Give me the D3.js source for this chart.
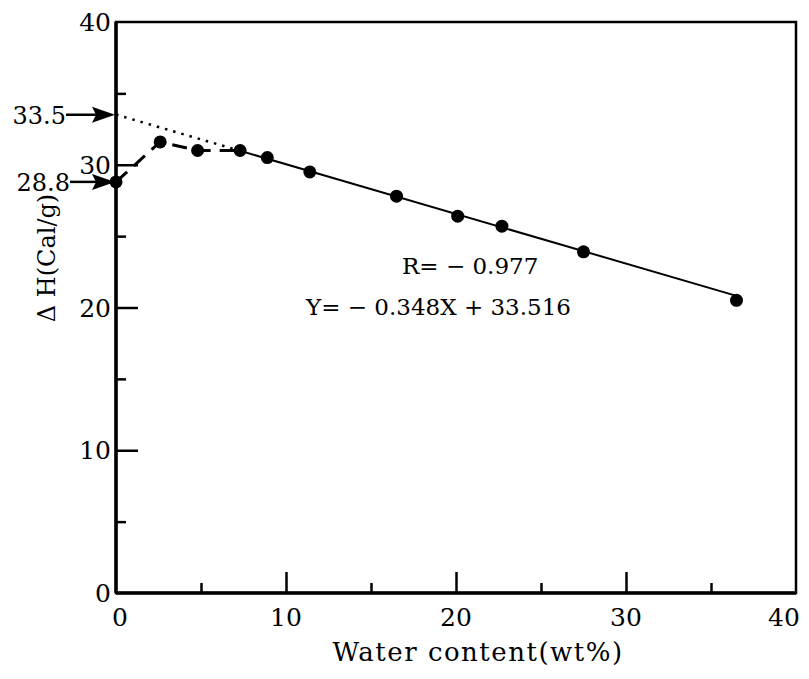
<!DOCTYPE html>
<html>
<head>
<meta charset="utf-8">
<script src="https://cdn.jsdelivr.net/npm/d3@7"></script>
<style>
  body { margin: 0; background: #fff; }
  text { font-family: "DejaVu Serif", "Liberation Serif", serif; fill: #000; }
</style>
</head>
<body>
<svg id="chart" width="809" height="679"></svg>
<script>
// measured points, water content (wt%) vs enthalpy (cal/g)
const water = [0, 2.6, 4.8, 7.3, 8.9, 11.4, 16.5, 20.1, 22.7, 27.5, 36.5];
const deltaH = [28.8, 31.6, 31.0, 31.0, 30.5, 29.5, 27.8, 26.4, 25.7, 23.9, 20.5];
const xTicks = [0, 10, 20, 30, 40];
const yTicks = [0, 10, 20, 30, 40];
const minorTicks = [5, 15, 25, 35];
const slope = -0.348, intercept = 33.516;
const fitStart = 7.3, fitEnd = 36.5;
const arrowValues = [33.5, 28.8];

const svg = d3.select('#chart');
const W = 809, H = 679;
const margin = { top: 22, right: 13, bottom: 86, left: 116 };

const x = d3.scaleLinear().domain([0, 40]).range([margin.left, W - margin.right]);
const y = d3.scaleLinear().domain([0, 40]).range([H - margin.bottom, margin.top]);

// frame: top and right plain
svg.append('rect')
    .attr('x', x(0)).attr('y', y(40))
    .attr('width', x(40) - x(0)).attr('height', y(0) - y(40))
    .attr('fill', 'none').attr('stroke', '#000').attr('stroke-width', 2.5);
svg.append('line')
    .attr('x1', x(0)).attr('x2', x(0)).attr('y1', y(40)).attr('y2', y(0))
    .attr('stroke', '#000').attr('stroke-width', 3.5);
svg.append('line')
    .attr('x1', x(0)).attr('x2', x(40)).attr('y1', y(0)).attr('y2', y(0))
    .attr('stroke', '#000').attr('stroke-width', 3.5);

// bottom axis, ticks pointing inward
svg.append('g')
    .attr('transform', 'translate(0,' + y(0) + ')')
    .call(d3.axisTop(x).tickValues(xTicks.slice(1, -1)).tickSize(21).tickFormat(''))
    .select('.domain').remove();
svg.append('g')
    .attr('transform', 'translate(0,' + y(0) + ')')
    .call(d3.axisTop(x).tickValues(minorTicks).tickSize(10).tickFormat(''))
    .select('.domain').remove();
svg.selectAll('.x-label')
    .data(xTicks)
    .enter().append('text')
    .attr('class', 'x-label')
    .attr('x', d => x(d) + (d === 0 ? 4 : d === 40 ? -12 : 0))
    .attr('y', y(0) + 33)
    .attr('text-anchor', 'middle')
    .attr('font-size', 25)
    .text(d => d);

// left axis
svg.append('g')
    .attr('transform', 'translate(' + x(0) + ',0)')
    .call(d3.axisRight(y).tickValues(yTicks.filter(d => d > 0 && d < 40)).tickSize(22).tickFormat(''))
    .select('.domain').remove();
svg.append('g')
    .attr('transform', 'translate(' + x(0) + ',0)')
    .call(d3.axisRight(y).tickValues(minorTicks).tickSize(10).tickFormat(''))
    .select('.domain').remove();
svg.selectAll('.y-label')
    .data(yTicks)
    .enter().append('text')
    .attr('class', 'y-label')
    .attr('x', x(0) - 5)
    .attr('y', d => y(d) + 9)
    .attr('text-anchor', 'end')
    .attr('font-size', 25)
    .text(d => d);

svg.selectAll('.tick line').attr('stroke', '#000').attr('stroke-width', 2.5);

// axis titles
svg.append('text')
    .attr('x', (x(0) + x(40)) / 2 + 22)
    .attr('y', H - 18)
    .attr('text-anchor', 'middle')
    .attr('font-size', 26)
    .attr('letter-spacing', 1.5)
    .text('Water content(wt%)');
svg.append('text')
    .attr('transform', 'translate(55,' + 258 + ') rotate(-90)')
    .attr('text-anchor', 'middle')
    .attr('font-size', 24)
    .text('\u0394 H(Cal/g)');

// regression: dotted extrapolation then solid fit
const fit = v => slope * v + intercept;
const line = d3.line().x(d => x(d[0])).y(d => y(d[1]));
svg.append('path')
    .attr('d', line([[0, fit(0)], [fitStart, fit(fitStart)]]))
    .attr('fill', 'none').attr('stroke', '#000').attr('stroke-width', 2.5)
    .attr('stroke-dasharray', '2.5,6');
svg.append('path')
    .attr('d', line([[fitStart, fit(fitStart)], [fitEnd, fit(fitEnd)]]))
    .attr('fill', 'none').attr('stroke', '#000').attr('stroke-width', 2);

// dashed line through low-water points
const pts = water.map((w, i) => [w, deltaH[i]]);
svg.append('path')
    .attr('d', line(pts.slice(0, 4)))
    .attr('fill', 'none').attr('stroke', '#000').attr('stroke-width', 3)
    .attr('stroke-dasharray', '15,9');

svg.selectAll('circle')
    .data(pts)
    .enter().append('circle')
    .attr('cx', d => x(d[0]))
    .attr('cy', d => y(d[1]))
    .attr('r', 6.5)
    .attr('fill', '#000');

// annotations
const arrows = svg.selectAll('.arrow')
    .data(arrowValues)
    .enter().append('g')
    .attr('class', 'arrow');
arrows.append('line')
    .attr('x1', (d, i) => i === 0 ? 66 : 70)
    .attr('x2', x(0) - 16)
    .attr('y1', d => y(d)).attr('y2', d => y(d))
    .attr('stroke', '#000').attr('stroke-width', 2.5);
arrows.append('path')
    .attr('d', d => 'M' + (x(0) - 1) + ',' + y(d) + 'L' + (x(0) - 24) + ',' + (y(d) - 8) + 'L' + (x(0) - 20) + ',' + y(d) + 'L' + (x(0) - 24) + ',' + (y(d) + 8) + 'Z')
    .attr('fill', '#000');
arrows.append('text')
    .attr('x', (d, i) => i === 0 ? 66 : 70)
    .attr('y', d => y(d) + 9)
    .attr('text-anchor', 'end')
    .attr('font-size', 24)
    .text(d => d.toFixed(1));

svg.append('text')
    .attr('x', 402).attr('y', 274)
    .attr('font-size', 23)
    .text('R= \u2212 0.977');
svg.append('text')
    .attr('x', 306).attr('y', 315)
    .attr('font-size', 23)
    .text('Y= \u2212 0.348X + 33.516');
</script>
</body>
</html>
